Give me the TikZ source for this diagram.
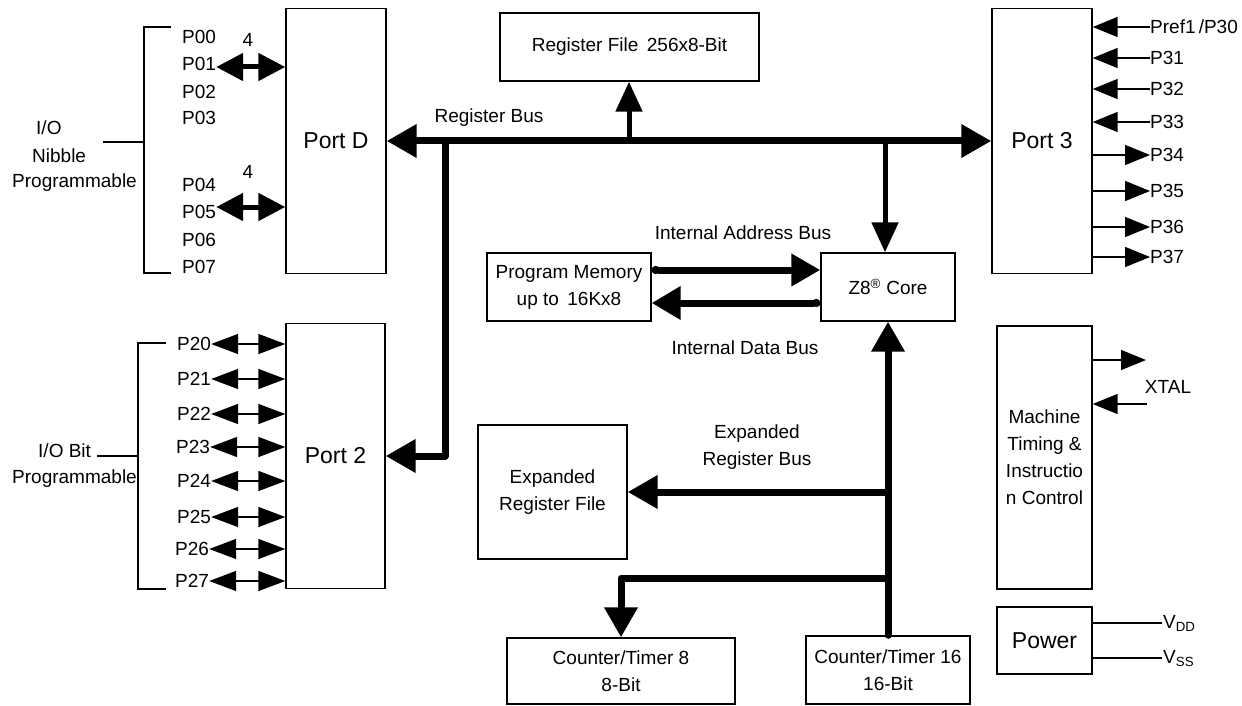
\documentclass[tikz,border=0pt]{standalone}
\usepackage{fontspec}
\setmainfont{Liberation Sans}
\usetikzlibrary{arrows.meta}

\begin{document}
\begin{tikzpicture}[x=1pt, y=-1pt,
        blk/.style = {draw, line width=1.4pt, inner sep=0pt, align=center,
                      font=\fontsize{19}{27}\selectfont},
        portblk/.style = {blk, minimum width=100pt, minimum height=265pt,
                          font=\fontsize{23}{27}\selectfont},
        lbl/.style = {inner sep=0pt, align=center, font=\fontsize{19}{27}\selectfont},
        pinlbl/.style = {lbl, anchor=west},
        wire/.style = {line width=1.5pt},
        bus/.style = {line width=7pt, line join=round},
        busarrow/.style = {bus, -{Triangle[length=30pt, width=32pt]}},
        busboth/.style = {bus, {Triangle[length=30pt, width=32pt]}-{Triangle[length=30pt, width=32pt]}},
        stubarrow/.style = {line width=5pt, -{Triangle[length=30pt, width=26pt]}},
        nibarrow/.style = {line width=5pt, {Triangle[length=27pt, width=27pt]}-{Triangle[length=27pt, width=27pt]}},
        bitarrow/.style = {wire, {Triangle[length=27pt, width=20pt]}-{Triangle[length=27pt, width=20pt]}},
        sigarrow/.style = {wire, -{Triangle[length=25pt, width=20pt]}}]

    \useasboundingbox (0,0) rectangle (1242,706);

    % blocks
    \node[portblk] (portd) at (336,141) {Port D};
    \node[portblk, minimum width=99pt, minimum height=265pt] (port2) at (335.5,456) {Port 2};
    \node[portblk] (port3) at (1042,141) {Port 3};
    \node[blk, minimum width=259pt, minimum height=68pt] (regfile) at (629.5,47) {Register File\, 256x8-Bit};
    \node[blk, minimum width=164pt, minimum height=68pt] (progmem) at (569,287) {Program Memory\\up to\, 16Kx8};
    \node[blk, minimum width=134pt, minimum height=68pt] (z8) at (888,287) {Z8\textsuperscript{\textregistered} Core};
    \node[blk, minimum width=149pt, minimum height=134pt] (erf) at (552.5,492) {Expanded\\Register File};
    \node[blk, minimum width=228pt, minimum height=66pt] (ct8) at (621,671) {Counter/Timer 8\\8-Bit};
    \node[blk, minimum width=164pt, minimum height=68pt] (ct16) at (888,670) {Counter/Timer 16\\16-Bit};
    \node[blk, minimum width=95pt, minimum height=263pt] (mach) at (1044.5,457.5) {Machine\\Timing \&\\Instructio\\n Control};
    \node[blk, minimum width=95pt, minimum height=67pt, font=\fontsize{23}{27}\selectfont] (power) at (1044.5,640.5) {Power};

    % register bus
    \draw[busboth] (portd) -- (port3);
    \node[lbl] (regbus) at (489,118) {Register Bus};
    \coordinate (tapr) at (629,141);
    \coordinate (tapb) at (445,141);
    \coordinate (tapz) at (885,141);
    \draw[stubarrow] (tapr) -- (tapr |- regfile.south);
    \draw[stubarrow] (tapz) -- (tapz |- z8.north);
    \draw[busarrow] (tapb) |- (port2.east);

    % program memory buses
    \draw[bus, {Circle[length=8pt]}-{Triangle[length=29pt, width=31pt]}] ([yshift=17pt]progmem.east) -- ([yshift=17pt]progmem.east -| z8.west);
    \draw[bus, {Circle[length=8pt]}-{Triangle[length=29pt, width=32pt]}] ([yshift=-16pt]z8.west) -- ([yshift=-16pt]z8.west -| progmem.east);
    \node[lbl] (iab) at (743,233) {Internal Address Bus};
    \node[lbl] (idb) at (745,348) {Internal Data Bus};

    % expanded register bus
    \coordinate (tape) at (888,492);
    \coordinate (tapc) at (888,578);
    \draw[busarrow, line cap=round] (ct16.north) -- (z8.south);
    \draw[busarrow] (tape) -- (erf.east);
    \draw[busarrow] (tapc) -| (ct8.north);
    \node[lbl] (erb) at (757,447) {Expanded\\Register Bus};

    % port D pins
    \node[pinlbl] (p00) at (182,37) {P00};
    \node[pinlbl] (p01) at (182,64) {P01};
    \node[pinlbl] (p02) at (182,92) {P02};
    \node[pinlbl] (p03) at (182,118) {P03};
    \node[pinlbl] (p04) at (182,185) {P04};
    \node[pinlbl] (p05) at (182,212) {P05};
    \node[pinlbl] (p06) at (182,240) {P06};
    \node[pinlbl] (p07) at (182,267) {P07};
    \draw[nibarrow] ([yshift=-3pt]p01.east) -- ([yshift=-3pt]p01.east -| portd.west);
    \draw[nibarrow] ([yshift=5pt]p05.east) -- ([yshift=5pt]p05.east -| portd.west);
    \node[lbl] (n4a) at (248,40) {4};
    \node[lbl] (n4b) at (248,172) {4};
    \draw[wire] (171,27) -- (144,27) -- (144,273) -- (171,273);
    \draw[wire] (103,142) -- (144,142);
    \node[pinlbl] (nib1) at (36,128) {I/O};
    \node[pinlbl] (nib2) at (32,156) {Nibble};
    \node[pinlbl] (nib3) at (12,183) {Programmable};

    % port 2 pins
    \node[pinlbl] (p20) at (177,344) {P20};
    \node[pinlbl] (p21) at (177,379) {P21};
    \node[pinlbl] (p22) at (177,414) {P22};
    \node[pinlbl] (p23) at (176,447) {P23};
    \node[pinlbl] (p24) at (177,481) {P24};
    \node[pinlbl] (p25) at (177,517) {P25};
    \node[pinlbl] (p26) at (175,549) {P26};
    \node[pinlbl] (p27) at (175,581) {P27};
    \draw[bitarrow] (p20.east) -- (p20.east -| port2.west);
    \draw[bitarrow] (p21.east) -- (p21.east -| port2.west);
    \draw[bitarrow] (p22.east) -- (p22.east -| port2.west);
    \draw[bitarrow] (p23.east) -- (p23.east -| port2.west);
    \draw[bitarrow] (p24.east) -- (p24.east -| port2.west);
    \draw[bitarrow] (p25.east) -- (p25.east -| port2.west);
    \draw[bitarrow] (p26.east) -- (p26.east -| port2.west);
    \draw[bitarrow] (p27.east) -- (p27.east -| port2.west);
    \draw[wire] (166,343) -- (138,343) -- (138,589) -- (166,589);
    \draw[wire] (97,456) -- (138,456);
    \node[pinlbl] (bit1) at (38,451) {I/O Bit};
    \node[pinlbl] (bit2) at (12,479) {Programmable};

    % port 3 pins
    \node[pinlbl] (p30) at (1150,27) {Pref1\,/P30};
    \node[pinlbl] (p31) at (1150,58) {P31};
    \node[pinlbl] (p32) at (1150,89) {P32};
    \node[pinlbl] (p33) at (1150,122) {P33};
    \node[pinlbl] (p34) at (1150,155) {P34};
    \node[pinlbl] (p35) at (1150,191) {P35};
    \node[pinlbl] (p36) at (1150,227) {P36};
    \node[pinlbl] (p37) at (1150,257) {P37};
    \draw[sigarrow] (p30.west) -- (p30.west -| port3.east);
    \draw[sigarrow] (p31.west) -- (p31.west -| port3.east);
    \draw[sigarrow] (p32.west) -- (p32.west -| port3.east);
    \draw[sigarrow] (p33.west) -- (p33.west -| port3.east);
    \draw[sigarrow] (p34.west -| port3.east) -- (p34.west);
    \draw[sigarrow] (p35.west -| port3.east) -- (p35.west);
    \draw[sigarrow] (p36.west -| port3.east) -- (p36.west);
    \draw[sigarrow] (p37.west -| port3.east) -- (p37.west);

    % clock and supply
    \coordinate (xout) at (1146,360);
    \coordinate (xin) at (1147,404);
    \draw[sigarrow] (mach.east |- xout) -- (xout);
    \draw[sigarrow] (xin) -- (xin -| mach.east);
    \node[lbl] (xtal) at (1168,387) {XTAL};
    \coordinate (vddend) at (1162,623);
    \coordinate (vssend) at (1162,658);
    \draw[wire] (vddend -| power.east) -- (vddend);
    \draw[wire] (vssend -| power.east) -- (vssend);
    \node[lbl, anchor=base west] (vdd) at (1163,628) {V\textsubscript{DD}};
    \node[lbl, anchor=base west] (vss) at (1163,663) {V\textsubscript{SS}};
\end{tikzpicture}
\end{document}
